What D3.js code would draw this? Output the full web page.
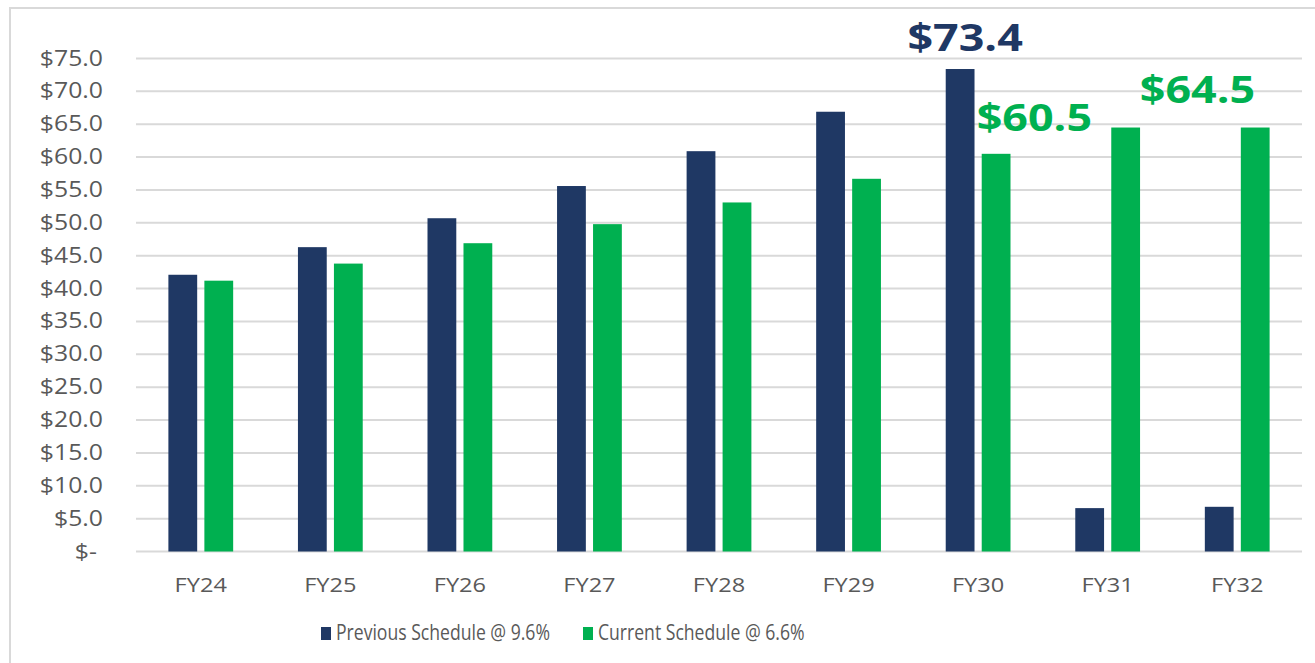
<!DOCTYPE html>
<html>
<head>
<meta charset="utf-8">
<script src="https://cdn.jsdelivr.net/npm/d3@7"></script>
<style>
  body { margin: 0; background: #fff; }
  svg { display: block; font-family: "Open Sans", sans-serif; }
</style>
</head>
<body>
<svg id="chart" width="1315" height="663"></svg>
<script>
// fiscal years and the two schedules (values in $M)
const years = ["FY24", "FY25", "FY26", "FY27", "FY28", "FY29", "FY30", "FY31", "FY32"];
const seriesNames = ["Previous Schedule @ 9.6%", "Current Schedule @ 6.6%"];
const previous = [42.1, 46.3, 50.7, 55.6, 60.9, 66.9, 73.4, 6.6, 6.8];
const current = [41.2, 43.8, 46.9, 49.8, 53.1, 56.7, 60.5, 64.5, 64.5];
const yTicks = [0, 5, 10, 15, 20, 25, 30, 35, 40, 45, 50, 55, 60, 65, 70, 75];

const colors = ["#1f3864", "#00b050"];
const svg = d3.select("#chart");
const margin = {top: 58.5, right: 13, bottom: 111.5, left: 136};
const width = 1315 - margin.left - margin.right;
const height = 663 - margin.top - margin.bottom;
const stretch = 1.18; // the source picture is stretched sideways a bit

// outer frame
svg.append("rect").attr("x", 10).attr("y", 8).attr("width", 1320).attr("height", 700)
  .attr("fill", "none").attr("stroke", "#d9d9d9").attr("stroke-width", 2);

const g = svg.append("g").attr("transform", `translate(${margin.left},${margin.top})`);

const x0 = d3.scaleBand().domain(years).range([0, width]).paddingInner(0.5).paddingOuter(0.25);
const x1 = d3.scaleBand().domain([0, 1]).range([0, x0.bandwidth()]).paddingInner(0.2);
const y = d3.scaleLinear().domain([0, 75]).range([height, 0]);

// grid lines
g.append("g").selectAll("line").data(yTicks).join("line")
  .attr("x1", 0).attr("x2", width)
  .attr("y1", d => y(d)).attr("y2", d => y(d))
  .attr("stroke", "#d9d9d9").attr("stroke-width", 2);

function label(parent, x, y, txt, size, anchor, fill, weight, sx) {
  return parent.append("text")
    .attr("transform", `translate(${x},${y}) scale(${sx || stretch},1)`)
    .attr("text-anchor", anchor).attr("font-size", size)
    .attr("font-weight", weight || "normal").attr("fill", fill).text(txt);
}

// y axis labels
const fmt = d => d === 0 ? "$-" : "$" + d3.format(".1f")(d);
yTicks.forEach(t => {
  label(g, t === 0 ? -39 : -33, y(t) + 7, fmt(t), 21, "end", "#595959");
});

// x axis labels
years.forEach(yr => {
  label(g, x0(yr) + x0.bandwidth() / 2, height + 40, yr, 20, "middle", "#595959");
});

// bars
const rows = years.map((yr, i) => ({year: yr, vals: [previous[i], current[i]]}));
g.append("g").selectAll("g").data(rows).join("g")
  .attr("transform", d => `translate(${x0(d.year)},0)`)
  .selectAll("rect").data(d => d.vals.map((v, s) => ({v, s}))).join("rect")
  .attr("x", d => x1(d.s)).attr("width", x1.bandwidth())
  .attr("y", d => y(d.v)).attr("height", d => height - y(d.v))
  .attr("fill", d => colors[d.s]);

// callouts
const cx = (yr, s) => x0(yr) + x1(s) + x1.bandwidth() / 2;
const i30 = years.indexOf("FY30");
label(g, cx("FY30", 0) + 5, y(previous[i30]) - 18, "$" + previous[i30].toFixed(1), 38, "middle", colors[0], "bold");
label(g, x0("FY30") + x1(1) - 5, y(current[i30]) - 23, "$" + current[i30].toFixed(1), 38, "start", colors[1], "bold");
const i31 = years.indexOf("FY31");
label(g, (cx("FY31", 1) + cx("FY32", 1)) / 2 + 7, y(current[i31]) - 25, "$" + current[i31].toFixed(1), 38, "middle", colors[1], "bold");

// legend
const legendX = [321, 583];
seriesNames.forEach((name, i) => {
  svg.append("rect").attr("x", legendX[i]).attr("y", 627).attr("width", 10).attr("height", 13).attr("fill", colors[i]);
  label(svg, legendX[i] + 15, 640, name, 22, "start", "#595959", "normal", 0.8);
});
</script>
</body>
</html>
